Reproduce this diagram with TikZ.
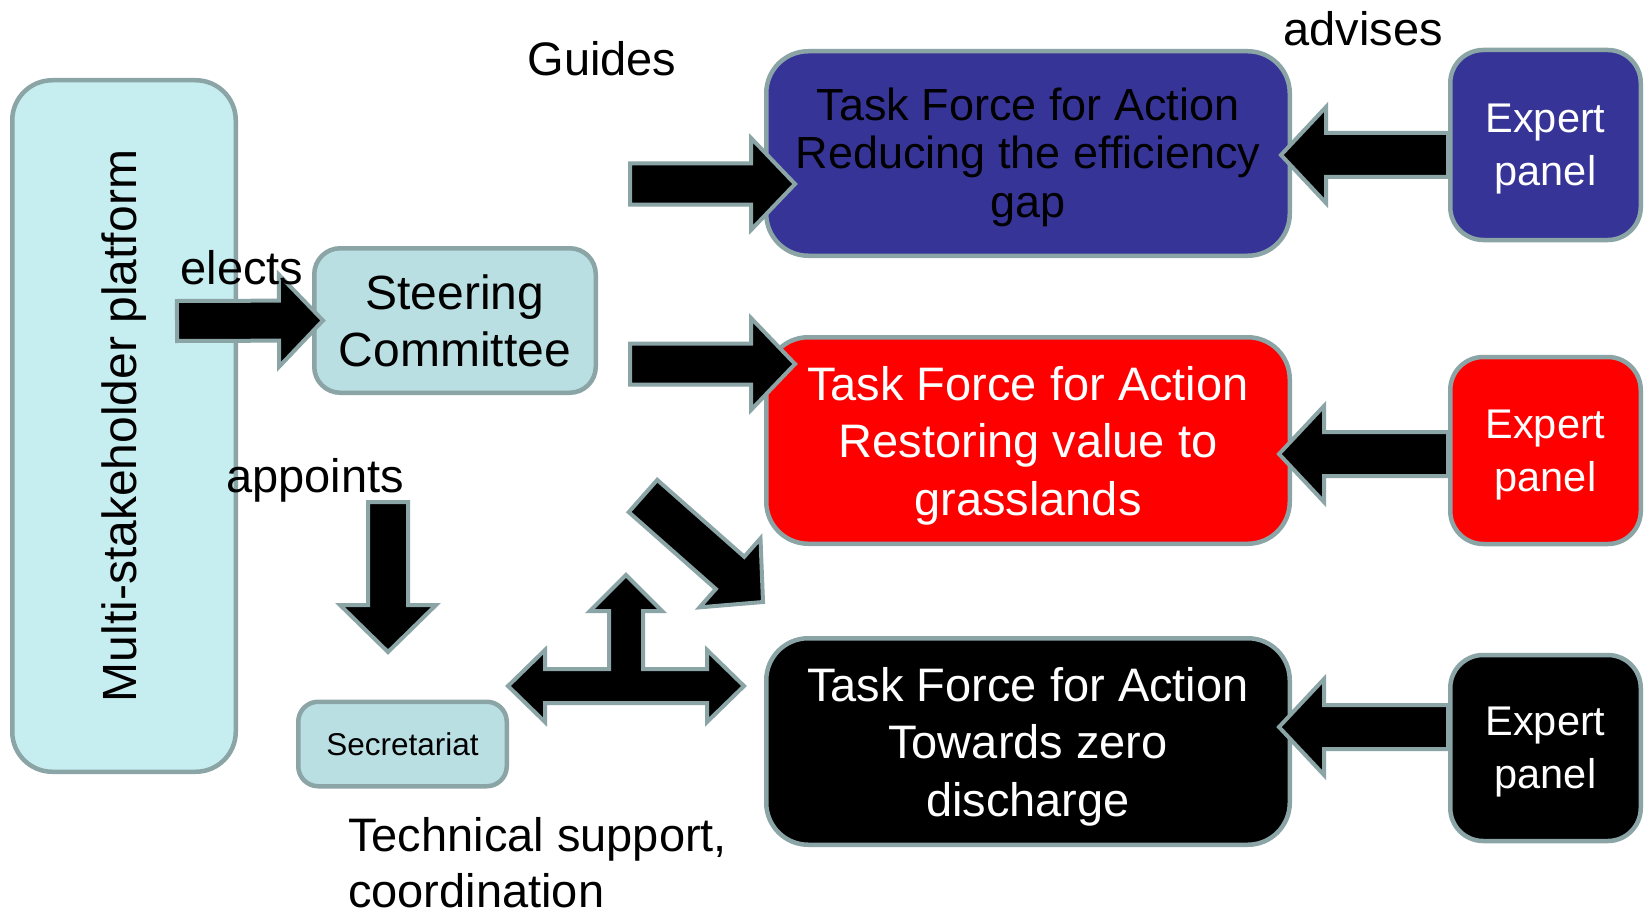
\documentclass[tikz,border=0pt]{standalone}
\usepackage{fontspec}
\setmainfont{Liberation Sans}
\usetikzlibrary{calc}

\definecolor{edgegrey}{RGB}{139,164,166}
\definecolor{platformfill}{RGB}{198,237,240}
\definecolor{committeefill}{RGB}{185,223,227}
\definecolor{taskblue}{RGB}{54,52,150}

% fat arrow: tail, tip, shaft half width, head half width, head length
\newcommand{\blockarrow}[5]{%
  \coordinate (ba-base) at ($(#2)!#5!(#1)$);
  \draw[bigarrow] ($(#1)!#3!90:(#2)$) -- ($(ba-base)!#3!90:(#2)$) -- ($(ba-base)!#4!90:(#2)$)
    -- (#2) -- ($(ba-base)!#4!-90:(#2)$) -- ($(ba-base)!#3!-90:(#2)$) -- ($(#1)!#3!-90:(#2)$) -- cycle;}

\begin{document}
\begin{tikzpicture}[x=1pt, y=-1pt,
    box/.style={draw=edgegrey, line width=4.5pt, rounded corners=#1, align=center, inner sep=0pt},
    box/.default=40pt,
    bigarrow/.style={draw=edgegrey, fill=black, line width=4pt},
    lbl/.style={inner sep=0pt, font=\fontsize{47}{56}\selectfont}]
  \path[use as bounding box, fill=white] (0,0) rectangle (1645,912);

  \node[box=40pt, fill=platformfill, minimum width=223.5pt, minimum height=691.5pt, font=\fontsize{48}{56}\selectfont] (platform) at (124,426) {\rotatebox{90}{Multi-stakeholder platform}};
  \node[box=26pt, fill=committeefill, minimum width=281.5pt, minimum height=144.5pt, font=\fontsize{48}{57}\selectfont] (steering) at (455,320.5) {Steering\\Committee};
  \node[box=20pt, fill=committeefill, minimum width=208.5pt, minimum height=84.5pt, text depth=-5pt, font=\fontsize{31.5}{36}\selectfont] (secretariat) at (402.5,744) {Secretariat};

  % task forces
  \node[box=42pt, fill=taskblue, minimum width=523.5pt, minimum height=204.5pt, text depth=2pt, font=\fontsize{45}{48.5}\selectfont] (tfgap) at (1028,153.5) {Task Force for Action\\Reducing the efficiency\\gap};
  \node[box=42pt, fill=red, text=white, minimum width=523.5pt, minimum height=206.5pt, text depth=-4.5pt, font=\fontsize{47}{57.5}\selectfont] (tfgrass) at (1028,440.5) {Task Force for Action\\Restoring value to\\grasslands};
  \node[box=42pt, fill=black, text=white, minimum width=523.5pt, minimum height=206.5pt, text depth=-6pt, font=\fontsize{47}{57.5}\selectfont] (tfzero) at (1028,741.5) {Task Force for Action\\Towards zero\\discharge};

  % expert panels
  \node[box=33pt, fill=taskblue, text=white, minimum width=190.5pt, minimum height=190pt, text depth=-7pt, font=\fontsize{41.5}{53}\selectfont] (expgap) at (1545.5,145) {Expert\\panel};
  \node[box=33pt, fill=red, text=white, minimum width=190.5pt, minimum height=187pt, text depth=-7pt, font=\fontsize{41.5}{53}\selectfont] (expgrass) at (1545.5,450.5) {Expert\\panel};
  \node[box=33pt, fill=black, text=white, minimum width=190.5pt, minimum height=186pt, text depth=-7pt, font=\fontsize{41.5}{53}\selectfont] (expzero) at (1545.5,748) {Expert\\panel};

  % arrow ends
  \coordinate (elects-tail) at (177,321);
  \coordinate (elects-tip) at ($(steering.west)+(11,0)$);
  \coordinate (guides-tail1) at (630,184);
  \coordinate (guides-tip1) at (795,184);
  \coordinate (guides-tail2) at (630,364);
  \coordinate (guides-tip2) at (795,364);
  \coordinate (guides-tail3) at (643,496);
  \coordinate (guides-tip3) at (763,602);
  \coordinate (appoints-tail) at (388,502);
  \coordinate (appoints-tip) at (388,652);
  \coordinate (adv-tip1) at ($(tfgap.east)+(-11,1.5)$);
  \coordinate (adv-tip2) at ($(tfgrass.east)+(-13,13.5)$);
  \coordinate (adv-tip3) at ($(tfzero.east)+(-13,-14.5)$);

  \blockarrow{elects-tail}{elects-tip}{20pt}{46pt}{44pt}
  \blockarrow{guides-tail1}{guides-tip1}{20.5pt}{46pt}{44pt}
  \blockarrow{guides-tail2}{guides-tip2}{20.5pt}{46pt}{44pt}
  \blockarrow{guides-tail3}{guides-tip3}{21.5pt}{46pt}{44pt}
  \blockarrow{appoints-tail}{appoints-tip}{20pt}{48pt}{47pt}
  \blockarrow{expgap.west |- adv-tip1}{adv-tip1}{22pt}{48pt}{45pt}
  \blockarrow{expgrass.west |- adv-tip2}{adv-tip2}{22pt}{48pt}{45pt}
  \blockarrow{expzero.west |- adv-tip3}{adv-tip3}{22pt}{48pt}{45pt}

  % technical support, three ways
  \draw[bigarrow] (508,686) -- (545,650) -- (545,669) -- (609,669) -- (609,611) -- (590,611) -- (626,575)
    -- (662,611) -- (643,611) -- (643,669) -- (707,669) -- (707,650) -- (744,686) -- (707,722)
    -- (707,703) -- (545,703) -- (545,722) -- cycle;

  \node[lbl] (guides) at (602,59) {Guides};
  \node[lbl] (advises) at (1363,29) {advises};
  \node[lbl] (elects) at (242,268) {elects};
  \node[lbl] (appoints) at (315,480) {appoints};
  \node[lbl, align=left, anchor=north west, text depth=0pt] (support) at (348,817) {Technical support,\\coordination};
\end{tikzpicture}
\end{document}
